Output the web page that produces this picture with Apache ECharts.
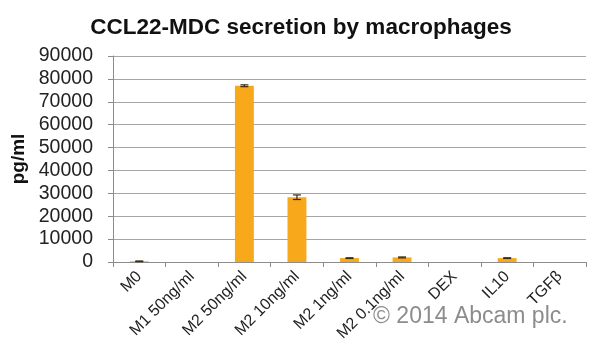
<!DOCTYPE html>
<html>
<head>
<meta charset="utf-8">
<script src="https://cdn.jsdelivr.net/npm/echarts@6/dist/echarts.min.js"></script>
<style>html,body{margin:0;padding:0;background:#fff}#c{width:600px;height:357px}</style>
</head>
<body>
<div id="c"></div>
<script>
var categories = ['M0', 'M1 50ng/ml', 'M2 50ng/ml', 'M2 10ng/ml', 'M2 1ng/ml', 'M2 0.1ng/ml', 'DEX', 'IL10', 'TGF\u03b2'];
var values = [300, 0, 77000, 28300, 1700, 2000, 0, 1700, 0];
var errors = [150, 0, 400, 1000, 150, 200, 0, 150, 0];
var yTicks = [0, 10000, 20000, 30000, 40000, 50000, 60000, 70000, 80000, 90000];

var errData = [];
categories.forEach(function (c, i) {
  if (values[i] > 0) errData.push([i, values[i] - errors[i], values[i] + errors[i], values[i]]);
});

var chart = echarts.init(document.getElementById('c'));
chart.setOption({
  animation: false,
  title: {
    text: 'CCL22-MDC secretion by macrophages',
    left: 296, textAlign: 'center', top: 11,
    textStyle: { fontFamily: 'Liberation Sans', fontWeight: 'bold', fontSize: 22.5, color: '#111' }
  },
  grid: { left: 113, right: 14, top: 56, bottom: 95 },
  xAxis: {
    type: 'category', data: categories,
    axisLine: { lineStyle: { color: '#8c8c8c', width: 1 } },
    axisTick: { show: true, length: 5, lineStyle: { color: '#8c8c8c' } },
    axisLabel: { rotate: 45, fontFamily: 'Liberation Sans', fontSize: 16, color: '#222', margin: 12, interval: 0 }
  },
  yAxis: {
    type: 'value', min: yTicks[0], max: yTicks[yTicks.length - 1], interval: 10000,
    name: 'pg/ml', nameLocation: 'middle', nameGap: 76, nameRotate: 90,
    nameTextStyle: { fontFamily: 'Liberation Sans', fontWeight: 'bold', fontSize: 19, color: '#111' },
    axisLine: { show: true, lineStyle: { color: '#8c8c8c' } },
    axisTick: { show: true, length: 5, lineStyle: { color: '#8c8c8c' } },
    axisLabel: { fontFamily: 'Liberation Sans', fontSize: 19.5, color: '#222', margin: 20, formatter: function (v) { return String(v); } },
    splitLine: { lineStyle: { color: '#a6a6a6', width: 1 } }
  },
  series: [
    {
      type: 'bar', data: values, barWidth: '36%',
      itemStyle: { color: '#F7A91B' }
    },
    {
      type: 'custom', data: errData, z: 10,
      renderItem: function (params, api) {
        var i = api.value(0);
        var lo = api.coord([i, api.value(1)]);
        var hi = api.coord([i, api.value(2)]);
        var hw = 4;
        return {
          type: 'group',
          children: [
            { type: 'line', shape: { x1: lo[0], y1: lo[1], x2: hi[0], y2: hi[1] }, style: { stroke: '#3a2a10', lineWidth: 1.2 } },
            { type: 'line', shape: { x1: lo[0] - hw, y1: lo[1], x2: lo[0] + hw, y2: lo[1] }, style: { stroke: '#3a2a10', lineWidth: 1.2 } },
            { type: 'line', shape: { x1: hi[0] - hw, y1: hi[1], x2: hi[0] + hw, y2: hi[1] }, style: { stroke: '#3a2a10', lineWidth: 1.2 } }
          ]
        };
      }
    }
  ],
  graphic: [{
    type: 'text', left: 373, top: 305, z: 100,
    style: { text: '\u00a9 2014 Abcam plc.', fontFamily: 'Liberation Sans', fontSize: 23, fill: 'rgba(120,120,120,0.85)' }
  }]
});
</script>
</body>
</html>
